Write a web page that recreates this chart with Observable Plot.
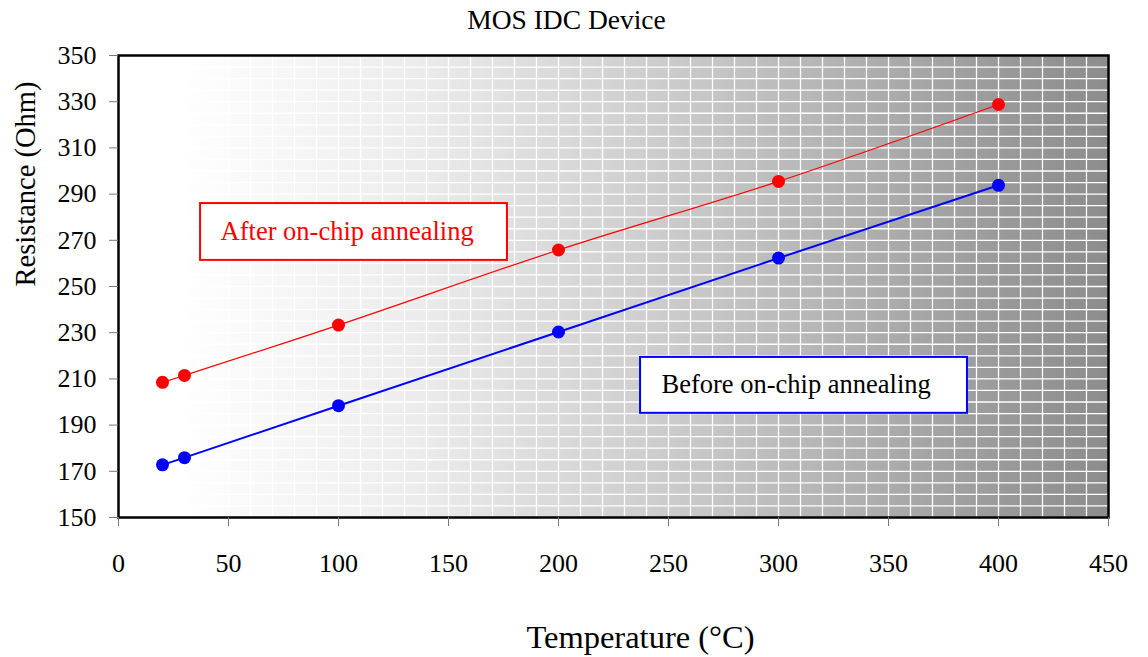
<!DOCTYPE html>
<html>
<head>
<meta charset="utf-8">
<script src="https://cdn.jsdelivr.net/npm/d3@7"></script>
<script src="https://cdn.jsdelivr.net/npm/@observablehq/plot@0.6"></script>
<style>
  html, body { margin: 0; padding: 0; background: #fff; }
  svg { display: block; }
</style>
</head>
<body>
<div id="chart"></div>
<script>
const temperature = [20, 30, 100, 200, 300, 400];
const afterAnneal = [208.5, 211.5, 233.3, 265.8, 295.5, 328.8];
const beforeAnneal = [172.8, 175.9, 198.4, 230.3, 262.3, 293.8];
const xTicks = [0, 50, 100, 150, 200, 250, 300, 350, 400, 450];
const yTicks = [150, 170, 190, 210, 230, 250, 270, 290, 310, 330, 350];
const labels = ["After on-chip annealing", "Before on-chip annealing"];
const labelBoxes = [
  {x1: 37.3, x2: 176.8, y1: 261.3, y2: 285.9, tx: 46.4, ty: 273.8, stroke: "#ff0000", color: "#ff0000", text: labels[0]},
  {x1: 237.3, x2: 385.9, y1: 195.1, y2: 219.3, tx: 246.8, ty: 207.4, stroke: "#0000ff", color: "#000000", text: labels[1]}
];

const after = temperature.map((t, i) => ({t, r: afterAnneal[i]}));
const before = temperature.map((t, i) => ({t, r: beforeAnneal[i]}));

const font = "'Liberation Serif', 'Times New Roman', serif";

const chart = Plot.plot({
  width: 1148,
  height: 657,
  marginTop: 55,
  marginBottom: 140,
  marginLeft: 118,
  marginRight: 40,
  style: {fontFamily: font, fontSize: "26px", background: "#fff", color: "#000"},
  x: {domain: [0, 450], ticks: xTicks, label: null},
  y: {domain: [150, 350], ticks: yTicks, label: null},
  marks: [
    Plot.frame({fill: "url(#bgGrad)", stroke: null}),
    Plot.gridX(d3.range(0, 451, 10), {stroke: "#ffffff", strokeOpacity: 1, strokeWidth: 1.3}),
    Plot.gridY(d3.range(150, 351, 5), {stroke: "#ffffff", strokeOpacity: 1, strokeWidth: 1.3}),
    Plot.frame({stroke: "#000", strokeWidth: 2.5}),
    Plot.axisX({ticks: xTicks, tickSize: 9, tickPadding: 27, stroke: "#777", fontSize: 26, label: null}),
    Plot.axisY({ticks: yTicks, tickSize: 9, tickPadding: 13, stroke: "#777", fontSize: 26, label: null}),
    Plot.line(after, {x: "t", y: "r", stroke: "#ff0000", strokeWidth: 1.2, curve: "catmull-rom"}),
    Plot.line(before, {x: "t", y: "r", stroke: "#0000ff", strokeWidth: 2}),
    Plot.dot(after, {x: "t", y: "r", r: 6.5, fill: "#ff0000", stroke: null}),
    Plot.dot(before, {x: "t", y: "r", r: 6.5, fill: "#0000ff", stroke: null}),
    Plot.rect(labelBoxes, {x1: "x1", x2: "x2", y1: "y1", y2: "y2", fill: "#fff", stroke: "stroke", strokeWidth: 2}),
    Plot.text(labelBoxes, {x: "tx", y: "ty", text: "text", fill: "color", textAnchor: "start", fontSize: 26.5}),
    Plot.text(["MOS IDC Device"], {frameAnchor: "top", lineAnchor: "middle", dx: -47, dy: -35, fontSize: 27.5}),
    Plot.text(["Temperature (°C)"], {frameAnchor: "bottom", lineAnchor: "middle", dx: 27, dy: 120, fontSize: 32.5}),
    Plot.text(["Resistance (Ohm)"], {frameAnchor: "left", dx: -93, rotate: -90, fontSize: 28.5})
  ]
});

const defs = d3.select(chart).insert("defs", ":first-child");
const grad = defs.append("linearGradient").attr("id", "bgGrad").attr("x1", "0").attr("x2", "1").attr("y1", "0").attr("y2", "0");
[[0, "#ffffff"], [6, "#ffffff"], [30, "#ececec"], [61, "#c4c4c4"], [89, "#9a9a9a"], [100, "#8c8c8c"]].forEach(([o, c]) =>
  grad.append("stop").attr("offset", o + "%").attr("stop-color", c));

document.getElementById("chart").appendChild(chart);
</script>
</body>
</html>
